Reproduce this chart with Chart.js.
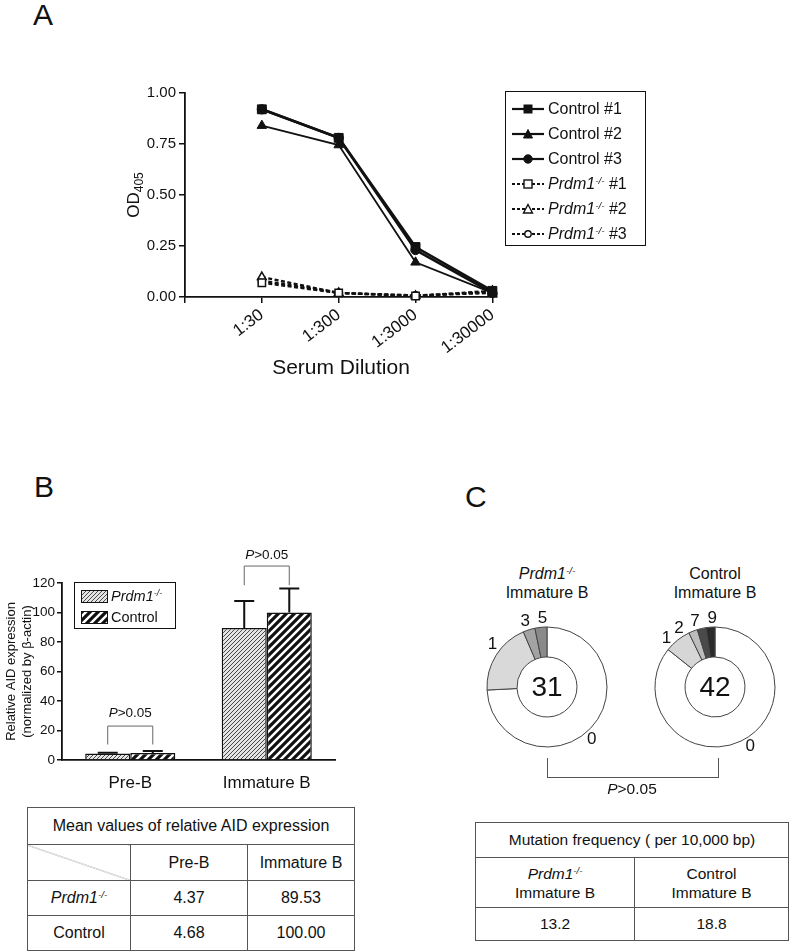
<!DOCTYPE html>
<html>
<head>
<meta charset="utf-8">
<script src="https://cdn.jsdelivr.net/npm/chart.js@4.4.1/dist/chart.umd.min.js"></script>
<style>
  html, body { margin:0; padding:0; background:#fff; }
  body { width:795px; height:952px; position:relative; overflow:hidden; font-family:"Liberation Sans", Arial, sans-serif; color:#111; }
  .abs { position:absolute; }
  .letter { position:absolute; font-size:30px; line-height:1; color:#111; }
  sup.s { font-size:0.62em; vertical-align:0.55em; line-height:0; }
  #legA { left:505px; top:91px; width:139px; height:153px; border:1.5px solid #111; }
  .legA-item { position:absolute; left:6px; height:20px; display:flex; align-items:center; font-size:16px; white-space:nowrap; }
  .legA-item svg { width:32px; height:14px; margin-right:4px; }
  #legB { left:74px; top:582px; width:100px; height:45px; border:1.5px solid #111; }
  .legB-item { position:absolute; left:6px; display:flex; align-items:center; font-size:14.5px; white-space:nowrap; height:14px; }
  .legB-item canvas { border:1px solid #111; margin-right:3px; }
  table { border-collapse:collapse; position:absolute; table-layout:fixed; }
  td { border:1px solid #555; text-align:center; vertical-align:middle; padding:0; color:#111; }
  #tblB td { font-size:16px; }
  #tblC td { font-size:15.5px; }
  .diag { background:linear-gradient(to top right, transparent calc(50% - 0.6px), #9a9a9a 50%, transparent calc(50% + 0.6px)); }
</style>
</head>
<body>
<!-- Panel letters -->
<div class="letter" style="left:33px; top:0px;">A</div>
<div class="letter" style="left:34px; top:472px;">B</div>
<div class="letter" style="left:465px; top:482px;">C</div>

<!-- Panel A -->
<canvas id="chartA" class="abs" width="410" height="305" style="left:100px; top:80px; width:410px; height:305px;"></canvas>
<div id="legA" class="abs"></div>

<!-- Panel B -->
<canvas id="chartB" class="abs" width="345" height="250" style="left:0px; top:540px; width:345px; height:250px;"></canvas>
<div id="legB" class="abs"></div>
<table id="tblB" style="left:27px; top:807px; width:327px; height:144px;">
  <colgroup><col style="width:103px"><col style="width:117px"><col style="width:107px"></colgroup>
  <tr style="height:37px"><td colspan="3">Mean values of relative AID expression</td></tr>
  <tr style="height:36px"><td class="diag"></td><td id="hB0"></td><td id="hB1"></td></tr>
  <tr style="height:35px"><td><i>Prdm1<sup class="s">-/-</sup></i></td><td id="p0"></td><td id="p1"></td></tr>
  <tr style="height:35px"><td>Control</td><td id="c0"></td><td id="c1"></td></tr>
</table>

<!-- Panel C -->
<div class="abs" style="left:487px; top:564px; width:120px; text-align:center; font-size:16px; line-height:19px;"><i>Prdm1<sup class="s">-/-</sup></i><br>Immature B</div>
<div class="abs" style="left:655px; top:564px; width:120px; text-align:center; font-size:16px; line-height:19px;">Control<br>Immature B</div>
<canvas id="donutL" class="abs" width="170" height="170" style="left:462px; top:602px; width:170px; height:170px;"></canvas>
<canvas id="donutR" class="abs" width="170" height="170" style="left:630px; top:602px; width:170px; height:170px;"></canvas>
<div class="abs" style="left:547px; top:758px; width:170px; height:19px; border:1px solid #555; border-top:none;"></div>
<div class="abs" style="left:582px; top:780px; width:100px; text-align:center; font-size:15.5px;"><i>P</i>&gt;0.05</div>
<table id="tblC" style="left:475px; top:822px; width:313px; height:118px;">
  <colgroup><col style="width:159px"><col style="width:154px"></colgroup>
  <tr style="height:35px"><td colspan="2">Mutation frequency ( per 10,000 bp)</td></tr>
  <tr style="height:50px"><td style="line-height:19px;"><i>Prdm1<sup class="s">-/-</sup></i><br>Immature B</td><td style="line-height:19px;">Control<br>Immature B</td></tr>
  <tr style="height:33px"><td id="f0"></td><td id="f1"></td></tr>
</table>

<script>
// ---------------- DATA ----------------
// Panel A: ELISA OD405 by serum dilution
const dilutions = ['1:30', '1:300', '1:3000', '1:30000'];
const control1 = [0.92, 0.78, 0.245, 0.03];
const control2 = [0.84, 0.745, 0.17, 0.02];
const control3 = [0.92, 0.78, 0.23, 0.02];
const prdm1_1 = [0.07, 0.02, 0.005, 0.025];
const prdm1_2 = [0.098, 0.02, 0.005, 0.03];
const prdm1_3 = [0.08, 0.02, 0.008, 0.02];
const yTicksA = [0, 0.25, 0.5, 0.75, 1.0];

// Panel B: relative AID expression
const cellTypes = ['Pre-B', 'Immature B'];
const prdmMeans = [4.37, 89.53];
const controlMeans = [4.68, 100.00];
const prdmSD = [0.6, 18.3];
const controlSD = [1.4, 16.2];
const yTicksB = [0, 20, 40, 60, 80, 100, 120];

// Panel C: number of sequences by mutations per sequence
const prdmMutLabels = ['0', '1', '3', '5'];
const prdmSeqCounts = [23, 6, 1, 1];
const ctrlMutLabels = ['0', '1', '2', '7', '9'];
const ctrlSeqCounts = [36, 3, 1, 1, 1];
const mutationFreq = [13.2, 18.8];

// ---------------- SETUP ----------------
const FONT = '"Liberation Sans", Arial, sans-serif';
Chart.defaults.font.family = FONT;
Chart.defaults.color = '#111';
Chart.defaults.animation = false;

// ---------- Panel A ----------
const seriesA = [
  { label: 'Control #1', data: control1, style: 'rect', open: false, r: 6.3, w: 2.6 },
  { label: 'Control #2', data: control2, style: 'triangle', open: false, r: 5.5, w: 1.8 },
  { label: 'Control #3', data: control3, style: 'circle', open: false, r: 4.6, w: 2.6 },
  { label: 'Prdm1-/- #1', data: prdm1_1, style: 'rect', open: true, r: 5.2, w: 2.4 },
  { label: 'Prdm1-/- #2', data: prdm1_2, style: 'triangle', open: true, r: 5, w: 2.4 },
  { label: 'Prdm1-/- #3', data: prdm1_3, style: 'circle', open: true, r: 3.6, w: 2.4 },
];
const odTitle = {
  id: 'odTitle',
  afterDraw(chart) {
    const { ctx } = chart;
    ctx.save();
    ctx.translate(chart.chartArea.left - 52, (chart.chartArea.top + chart.chartArea.bottom) / 2);
    ctx.rotate(-Math.PI / 2);
    ctx.fillStyle = '#111';
    ctx.textBaseline = 'alphabetic';
    ctx.font = '17px ' + FONT;
    const wOD = ctx.measureText('OD').width;
    ctx.font = '12px ' + FONT;
    const wSub = ctx.measureText('405').width;
    const sx = -(wOD + wSub) / 2;
    ctx.font = '17px ' + FONT;
    ctx.fillText('OD', sx, 6);
    ctx.font = '12px ' + FONT;
    ctx.fillText('405', sx + wOD, 10);
    ctx.restore();
  }
};
new Chart(document.getElementById('chartA'), {
  type: 'line',
  data: {
    datasets: seriesA.map(s => ({
      label: s.label,
      data: s.data.map((v, i) => ({ x: i + 1, y: v })),
      borderColor: '#111',
      borderWidth: s.w,
      borderDash: s.open ? [4, 2.5] : [],
      pointStyle: s.style,
      pointRadius: s.r,
      pointBackgroundColor: s.open ? '#fff' : '#111',
      pointBorderColor: '#111',
      pointBorderWidth: s.open ? 1.5 : 1,
      fill: false,
      tension: 0,
      clip: false
    }))
  },
  options: {
    responsive: false,
    layout: { padding: { top: 13, right: 13, left: 0, bottom: 0 } },
    plugins: { legend: { display: false }, tooltip: { enabled: false } },
    scales: {
      x: {
        type: 'linear', min: 0, max: 4.06,
        afterBuildTicks: s => { s.ticks = [0, 1, 2, 3, 4].map(v => ({ value: v })); },
        afterFit: s => { s.height = 88; },
        grid: { drawOnChartArea: false, tickLength: 6, color: '#111', lineWidth: 1.5 },
        border: { color: '#111', width: 1.8 },
        ticks: { callback: v => (v >= 1 ? dilutions[v - 1] : ''), autoSkip: false, maxRotation: 37, minRotation: 37, padding: 2, font: { size: 17 }, color: '#111' },
        title: { display: true, text: 'Serum Dilution', font: { size: 21 }, color: '#111', padding: { top: 0, bottom: 4 } }
      },
      y: {
        min: 0, max: 1,
        afterBuildTicks: s => { s.ticks = yTicksA.map(v => ({ value: v })); },
        afterFit: s => { s.width = 85; },
        grid: { drawOnChartArea: false, tickLength: 6, color: '#111', lineWidth: 1.5 },
        border: { color: '#111', width: 1.8 },
        ticks: { callback: v => v.toFixed(2), padding: 3, font: { size: 15 }, color: '#111' }
      }
    }
  },
  plugins: [odTitle]
});

// Legend A (HTML)
function markerSVG(style, open) {
  const fill = open ? '#fff' : '#111';
  const sw = open ? 1.4 : 1;
  if (style === 'rect') return `<rect x="12" y="3" width="8" height="8" fill="${fill}" stroke="#111" stroke-width="${sw}"/>`;
  if (style === 'triangle') return `<polygon points="16,2.5 20.5,11 11.5,11" fill="${fill}" stroke="#111" stroke-width="${sw}"/>`;
  return `<circle cx="16" cy="7" r="${open ? 3.2 : 4.2}" fill="${fill}" stroke="#111" stroke-width="${sw}"/>`;
}
const legA = document.getElementById('legA');
seriesA.forEach((s, i) => {
  const d = document.createElement('div');
  d.className = 'legA-item';
  d.style.top = (7 + i * 25) + 'px';
  const dash = s.open ? 'stroke-dasharray="3,2"' : '';
  const txt = s.open
    ? `<i>Prdm1<sup class="s">-/-</sup></i>&nbsp;${s.label.split(' ')[1]}`
    : s.label;
  d.innerHTML = `<svg viewBox="0 0 32 14"><line x1="0" y1="7" x2="32" y2="7" stroke="#111" stroke-width="2.2" ${dash}/>${markerSVG(s.style, s.open)}</svg><span>${txt}</span>`;
  legA.appendChild(d);
});

// ---------- Panel B ----------
function makePattern(ctx, bg, fg, size, lw) {
  const c = document.createElement('canvas');
  c.width = c.height = size;
  const x = c.getContext('2d');
  x.fillStyle = bg; x.fillRect(0, 0, size, size);
  x.strokeStyle = fg; x.lineWidth = lw;
  x.beginPath();
  x.moveTo(-2, size + 2); x.lineTo(size + 2, -2);
  x.moveTo(-2, 2); x.lineTo(2, -2);
  x.moveTo(size - 2, size + 2); x.lineTo(size + 2, size - 2);
  x.stroke();
  return ctx.createPattern(c, 'repeat');
}
const ctxB = document.getElementById('chartB').getContext('2d');
const patPrdm = makePattern(ctxB, '#e4e4e4', '#4a4a4a', 4, 1);
const patCtrl = makePattern(ctxB, '#ffffff', '#111111', 8, 3.2);

const errorBars = {
  id: 'errorBars',
  afterDatasetsDraw(chart) {
    const { ctx, scales: { y } } = chart;
    const sds = [prdmSD, controlSD];
    ctx.save();
    ctx.strokeStyle = '#111'; ctx.lineWidth = 2;
    chart.data.datasets.forEach((ds, di) => {
      const meta = chart.getDatasetMeta(di);
      meta.data.forEach((bar, j) => {
        const top = y.getPixelForValue(ds.data[j] + sds[di][j]);
        ctx.beginPath();
        ctx.moveTo(bar.x, bar.y); ctx.lineTo(bar.x, top);
        ctx.moveTo(bar.x - 10, top); ctx.lineTo(bar.x + 10, top);
        ctx.stroke();
      });
    });
    ctx.restore();
  }
};
const brackets = {
  id: 'brackets',
  afterDatasetsDraw(chart, args, opts) {
    const { ctx, scales: { y } } = chart;
    ctx.save();
    opts.items.forEach(it => {
      const x1 = chart.getDatasetMeta(0).data[it.index].x;
      const x2 = chart.getDatasetMeta(1).data[it.index].x;
      const yl = y.getPixelForValue(it.line), yf = y.getPixelForValue(it.foot), yt = y.getPixelForValue(it.label);
      ctx.strokeStyle = '#666'; ctx.lineWidth = 1;
      ctx.beginPath();
      ctx.moveTo(x1, yf); ctx.lineTo(x1, yl); ctx.lineTo(x2, yl); ctx.lineTo(x2, yf);
      ctx.stroke();
      ctx.fillStyle = '#111'; ctx.textBaseline = 'middle';
      ctx.font = 'italic 13.5px ' + FONT;
      const wP = ctx.measureText('P').width;
      ctx.font = '13.5px ' + FONT;
      const wR = ctx.measureText('>0.05').width;
      const sx = (x1 + x2) / 2 - (wP + wR) / 2;
      ctx.textAlign = 'left';
      ctx.font = 'italic 13.5px ' + FONT; ctx.fillText('P', sx, yt);
      ctx.font = '13.5px ' + FONT; ctx.fillText('>0.05', sx + wP, yt);
    });
    ctx.restore();
  }
};
new Chart(ctxB, {
  type: 'bar',
  data: {
    labels: cellTypes,
    datasets: [
      { label: 'Prdm1-/-', data: prdmMeans, backgroundColor: patPrdm, borderColor: '#111', borderWidth: 1.5, categoryPercentage: 0.66, barPercentage: 1.0 },
      { label: 'Control', data: controlMeans, backgroundColor: patCtrl, borderColor: '#111', borderWidth: 1.5, categoryPercentage: 0.66, barPercentage: 1.0 }
    ]
  },
  options: {
    responsive: false,
    layout: { padding: { top: 43, right: 10, left: 0, bottom: 0 } },
    plugins: {
      legend: { display: false }, tooltip: { enabled: false },
      brackets: { items: [
        { index: 0, line: 23, foot: 10.5, label: 32 },
        { index: 1, line: 131.5, foot: 118.5, label: 139 }
      ] }
    },
    scales: {
      x: {
        afterFit: s => { s.height = 30; },
        grid: { display: false },
        border: { color: '#111', width: 1.8 },
        ticks: { font: { size: 17 }, color: '#111', padding: 5 }
      },
      y: {
        min: 0, max: 120,
        afterBuildTicks: s => { s.ticks = yTicksB.map(v => ({ value: v })); },
        afterFit: s => { s.width = 62; },
        grid: { drawOnChartArea: false, tickLength: 5, color: '#111', lineWidth: 1.5 },
        border: { color: '#111', width: 1.8 },
        ticks: { padding: 2, font: { size: 13.5 }, color: '#111' },
        title: { display: true, text: ['Relative AID expression', '(normalized by β-actin)'], font: { size: 13 }, color: '#111', padding: { top: 4, bottom: 0 } }
      }
    }
  },
  plugins: [errorBars, brackets]
});

// Legend B (HTML with pattern swatches)
const legB = document.getElementById('legB');
[['<i>Prdm1<sup class="s">-/-</sup></i>', ['#e4e4e4', '#4a4a4a', 4, 1]], ['Control', ['#ffffff', '#111111', 8, 3.2]]].forEach((e, i) => {
  const d = document.createElement('div');
  d.className = 'legB-item';
  d.style.top = (6 + i * 21) + 'px';
  const c = document.createElement('canvas');
  c.width = 25; c.height = 11;
  const cx = c.getContext('2d');
  cx.fillStyle = makePattern(cx, ...e[1]);
  cx.fillRect(0, 0, 25, 11);
  d.appendChild(c);
  const sp = document.createElement('span');
  sp.innerHTML = e[0];
  d.appendChild(sp);
  legB.appendChild(d);
});

// Table B values
document.getElementById('hB0').textContent = cellTypes[0];
document.getElementById('hB1').textContent = cellTypes[1];
document.getElementById('p0').textContent = prdmMeans[0].toFixed(2);
document.getElementById('p1').textContent = prdmMeans[1].toFixed(2);
document.getElementById('c0').textContent = controlMeans[0].toFixed(2);
document.getElementById('c1').textContent = controlMeans[1].toFixed(2);

// ---------- Panel C ----------
const donutLabels = {
  id: 'donutLabels',
  afterDatasetsDraw(chart, args, opts) {
    const { ctx } = chart;
    const meta = chart.getDatasetMeta(0);
    const labels = chart.data.labels;
    const data = chart.data.datasets[0].data;
    ctx.save();
    ctx.fillStyle = '#111';
    ctx.textAlign = 'center'; ctx.textBaseline = 'middle';
    ctx.font = '17px ' + FONT;
    meta.data.forEach((arc, i) => {
      const p = arc.getProps(['x', 'y', 'startAngle', 'endAngle', 'outerRadius']);
      const a = (p.startAngle + p.endAngle) / 2 + (opts.nudge[i] || 0) * Math.PI / 180;
      const r = p.outerRadius + opts.gap;
      ctx.fillText(labels[i], p.x + r * Math.cos(a), p.y + r * Math.sin(a));
    });
    const total = data.reduce((s, v) => s + v, 0);
    const c = meta.data[0];
    ctx.font = '28px ' + FONT;
    ctx.fillText(String(total), c.x, c.y + 1);
    ctx.restore();
  }
};
function donut(id, labels, counts, colors, nudge) {
  new Chart(document.getElementById(id), {
    type: 'doughnut',
    data: { labels, datasets: [{ data: counts, backgroundColor: colors, borderColor: '#444', borderWidth: 1 }] },
    options: {
      responsive: false,
      cutout: '50%',
      layout: { padding: { left: 24.5, right: 24.5, top: 24.5, bottom: 24.5 } },
      plugins: { legend: { display: false }, tooltip: { enabled: false }, donutLabels: { nudge, gap: 9 } }
    },
    plugins: [donutLabels]
  });
}
donut('donutL', prdmMutLabels, prdmSeqCounts, ['#ffffff', '#d9d9d9', '#a3a3a3', '#8a8a8a'], [6, 6, -1, 2]);
donut('donutR', ctrlMutLabels, ctrlSeqCounts, ['#ffffff', '#d6d6d6', '#bdbdbd', '#4a4a4a', '#2b2b2b'], [-5, -6, -10, -4, 2]);

document.getElementById('f0').textContent = mutationFreq[0].toFixed(1);
document.getElementById('f1').textContent = mutationFreq[1].toFixed(1);
</script>
</body>
</html>
